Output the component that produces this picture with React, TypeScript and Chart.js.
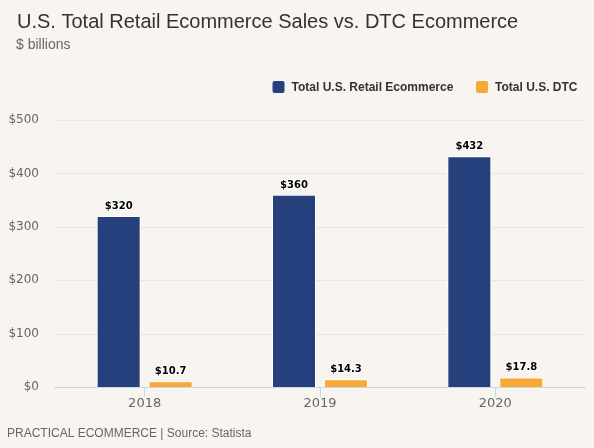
import React, { useEffect, useRef } from "react";
import { Chart, registerables } from "chart.js";

Chart.register(...registerables);

const TITLE = "U.S. Total Retail Ecommerce Sales vs. DTC Ecommerce";
const SUBTITLE = "$ billions";
const FOOTER = "PRACTICAL ECOMMERCE | Source: Statista";

const categories = ["2018", "2019", "2020"];
const retailLabel = "Total U.S. Retail Ecommerce";
const dtcLabel = "Total U.S. DTC";
const retailValues = [320, 360, 432];
const dtcValues = [10.7, 14.3, 17.8];
const retailValueLabels = ["$320", "$360", "$432"];
const dtcValueLabels = ["$10.7", "$14.3", "$17.8"];

const BG = "#f8f4f0";
const BLUE = "#263f7d";
const ORANGE = "#f7a932";
const SANS = '"Liberation Sans", Arial, sans-serif';
const AXISFONT = '"DejaVu Sans", sans-serif';

const valueLabelSets = [retailValueLabels, dtcValueLabels];

const decorPlugin = {
  id: "decor",
  beforeDraw(chart: any) {
    const ctx = chart.ctx;
    ctx.save();
    ctx.fillStyle = BG;
    ctx.fillRect(0, 0, chart.width, chart.height);
    ctx.restore();
  },
  beforeDatasetsDraw(chart: any) {
    const ctx = chart.ctx;
    const ys = chart.scales.y;
    const area = chart.chartArea;
    ctx.save();
    ctx.lineWidth = 1;
    ys.ticks.forEach((t: any) => {
      const py = Math.round(ys.getPixelForValue(t.value)) + 0.5;
      ctx.strokeStyle = t.value === 0 ? "#ccd6eb" : "#e6e6e6";
      ctx.beginPath();
      ctx.moveTo(area.left - 3, py);
      ctx.lineTo(area.right + 3, py);
      ctx.stroke();
    });
    ctx.restore();
  },
  afterDraw(chart: any) {
    const ctx = chart.ctx;
    ctx.save();
    ctx.textBaseline = "alphabetic";
    ctx.textAlign = "left";
    ctx.fillStyle = "#333333";
    ctx.font = `20px ${SANS}`;
    ctx.fillText(TITLE, 17, 28);
    ctx.fillStyle = "#666666";
    ctx.font = `14px ${SANS}`;
    ctx.fillText(SUBTITLE, 16, 49);
    ctx.font = `12px ${SANS}`;
    ctx.fillText(FOOTER, 7, 437);

    // legend
    ctx.font = `bold 12px ${SANS}`;
    const ds = chart.data.datasets;
    let right = 577.5;
    const items: any[] = [];
    for (let i = ds.length - 1; i >= 0; i--) {
      const w = ctx.measureText(ds[i].label).width;
      const tx = right - w;
      const bx = tx - 19;
      items.push({ tx, bx, label: ds[i].label, color: ds[i].backgroundColor });
      right = bx - 22.7;
    }
    items.forEach((it) => {
      ctx.fillStyle = it.color;
      ctx.beginPath();
      (ctx as any).roundRect(it.bx, 81, 12, 12, 2);
      ctx.fill();
      ctx.fillStyle = "#333333";
      ctx.textBaseline = "middle";
      ctx.fillText(it.label, it.tx, 87.5);
    });
    ctx.restore();
  },
  afterDatasetsDraw(chart: any) {
    const ctx = chart.ctx;
    ctx.save();
    ctx.font = `bold 10px ${AXISFONT}`;
    ctx.textAlign = "center";
    ctx.textBaseline = "alphabetic";
    ctx.lineJoin = "round";
    chart.data.datasets.forEach((d: any, di: number) => {
      const meta = chart.getDatasetMeta(di);
      meta.data.forEach((el: any, i: number) => {
        const txt = valueLabelSets[di][i];
        const y = el.y - 7;
        ctx.strokeStyle = "#ffffff";
        ctx.lineWidth = 2;
        ctx.strokeText(txt, el.x, y);
        ctx.fillStyle = "#000000";
        ctx.fillText(txt, el.x, y);
      });
    });
    ctx.restore();
  },
};

export default function App() {
  const ref = useRef<HTMLCanvasElement>(null);
  useEffect(() => {
    document.body.style.margin = "0";
    document.body.style.background = BG;
    const chart = new Chart(ref.current!, {
      type: "bar",
      data: {
        labels: categories,
        datasets: [
          {
            label: retailLabel,
            data: retailValues,
            backgroundColor: BLUE,
            borderColor: "#ffffff",
            borderWidth: 1,
            categoryPercentage: 0.593,
            barPercentage: 0.846,
          },
          {
            label: dtcLabel,
            data: dtcValues,
            backgroundColor: ORANGE,
            borderColor: "#ffffff",
            borderWidth: 1,
            categoryPercentage: 0.593,
            barPercentage: 0.846,
          },
        ],
      },
      options: {
        animation: false,
        responsive: true,
        maintainAspectRatio: false,
        devicePixelRatio: 1,
        layout: { padding: { top: 120, left: 8, right: 11, bottom: 37 } },
        plugins: {
          legend: { display: false },
          title: { display: false },
          tooltip: { enabled: false },
        },
        scales: {
          x: {
            afterFit: (s: any) => {
              s.height = 24;
            },
            grid: {
              display: true,
              drawOnChartArea: false,
              drawTicks: true,
              tickLength: 10,
              offset: false,
              color: "#ccd6eb",
            },
            border: { display: false },
            ticks: {
              color: "#666666",
              font: { family: AXISFONT, size: 13 },
              padding: -1,
            },
          },
          y: {
            min: 0,
            max: 500,
            afterFit: (s: any) => {
              s.width = 49;
            },
            grid: { display: false, drawTicks: false },
            border: { display: false },
            ticks: {
              stepSize: 100,
              color: "#666666",
              font: { family: AXISFONT, size: 12 },
              padding: 18,
              callback: (v: any) => "$" + v,
            },
          },
        },
      },
      plugins: [decorPlugin],
    });
    return () => chart.destroy();
  }, []);
  return (
    <div style={{ width: 594, height: 448, position: "relative" }}>
      <canvas ref={ref} />
    </div>
  );
}
